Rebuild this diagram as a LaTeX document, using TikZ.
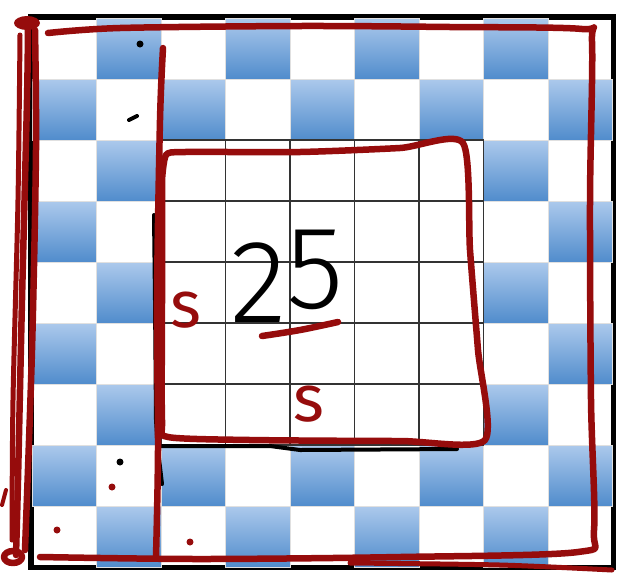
\documentclass[tikz,border=0pt]{standalone}
\usepackage{fontspec}
\newfontfamily\handfont{Fira Sans Light}
\newfontfamily\letterfont{Fira Sans}
\definecolor{inkred}{RGB}{150,12,12}
\definecolor{celltop}{RGB}{172,201,236}
\definecolor{cellbottom}{RGB}{80,140,204}

\begin{document}
\begin{tikzpicture}
    [x=1pt, y=-1pt,
    bluecell/.style={top color=celltop, bottom color=cellbottom, draw=black!12, line width=0.8pt},
    gridline/.style={draw=black!80, line width=1.4pt},
    frame/.style={draw=black, line width=5.5pt},
    redink/.style={draw=inkred, line width=6.5pt, line cap=round, line join=round},
    blackink/.style={draw=black, line width=4pt, line cap=round, line join=round},
    bigdigits/.style={font={\handfont\fontsize{118}{118}\selectfont}, text=black, inner sep=0pt, anchor=base west},
    sidelabel/.style={font={\letterfont\fontsize{66}{66}\selectfont}, text=inkred, inner sep=0pt}]

    \useasboundingbox[fill=white] (0,0) rectangle (620,574);

    % board
    \draw[frame] (31,17) rectangle (613.5,567.5);
    \foreach \r in {0,...,8}{
      \foreach \c in {0,...,8}{
        \pgfmathtruncatemacro\odd{mod(\r+\c,2)}
        \pgfmathtruncatemacro\inner{(\r>1)&&(\r<7)&&(\c>1)&&(\c<7)}
        \ifnum\odd=1 \ifnum\inner=0
          \draw[bluecell] ({32+\c*64.5},{18+\r*61}) rectangle ++(64.5,61);
        \fi\fi
      }
    }
    \foreach \i in {0,...,5}{
      \draw[gridline] ({161+\i*64.5},140) -- ({161+\i*64.5},445);
      \draw[gridline] (161,{140+\i*61}) -- (483.5,{140+\i*61});
    }

    % black marks
    \draw[blackink] (154,215) -- (155,300) -- (156,420) -- (158,450) -- (162,484);
    \draw[blackink] (160,446) -- (270,446) -- (300,450) -- (457,449);
    \fill (140,44) circle (3.5pt);
    \draw[blackink] (129,120) -- (137,116);
    \fill (120,462) circle (3.5pt);

    % red marks
    \draw[redink] plot[smooth, tension=0.5] coordinates
      {(48,33) (120,28) (300,26) (450,27) (582,29) (592,42) (590,200) (591,400) (594,530) (578,552) (400,557) (200,559) (40,557)};
    \draw[redink, line width=5pt] plot[smooth, tension=0.5] coordinates
      {(350,563) (500,565) (612,570)};
    \draw[redink] plot[smooth, tension=0.5] coordinates
      {(28,25) (27,100) (22,300) (18,480) (16,555)};
    \draw[redink] plot[smooth, tension=0.5] coordinates
      {(35,30) (36,150) (32,350) (25,550)};
    \draw[redink, line width=5pt] plot[smooth, tension=0.5] coordinates
      {(20,35) (18,200) (13,400) (12,540)};
    \fill[inkred] (27,23) ellipse (13pt and 7pt);
    \draw[redink] (13,557) ellipse (9pt and 6pt);
    \draw[redink, line width=4pt] (2,505) -- (6,490);
    \draw[redink] plot[smooth, tension=0.5] coordinates
      {(163,48) (160,120) (157,300) (158,450) (156,557)};
    \draw[redink] plot[smooth, tension=0.4] coordinates
      {(162,180) (166,155) (185,152) (300,152) (400,148) (463,143) (470,250) (478,350) (485,440) (400,441) (250,440) (168,437) (162,420) (162,300) (162,180)};
    \draw[redink] plot[smooth, tension=0.6] coordinates {(262,336) (300,330) (338,322)};
    \fill[inkred] (112,487) circle (3.5pt);
    \fill[inkred] (57,530) circle (3.5pt);
    \fill[inkred] (190,542) circle (3.5pt);

    % labels
    \node[bigdigits] (area) at (230,322) {2\raisebox{14pt}{5}};
    \node[sidelabel] (sideleft) at (186,310) {s};
    \node[sidelabel] (sidebottom) at (309,404) {s};
\end{tikzpicture}
\end{document}
